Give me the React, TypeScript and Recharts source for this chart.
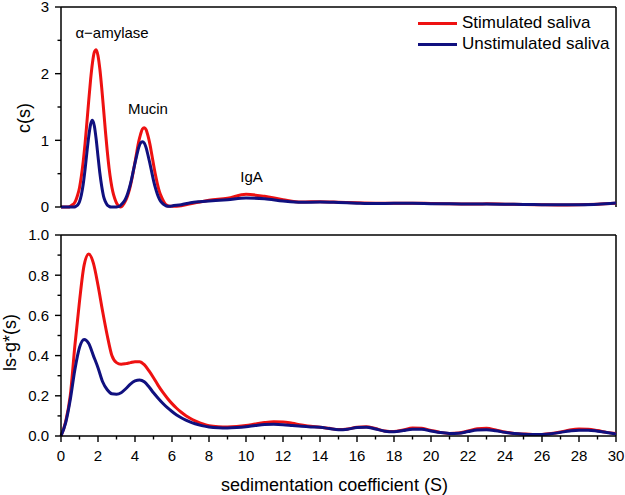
import React from "react";
import {
  Legend,
  Line,
  LineChart,
  ReferenceDot,
  ReferenceLine,
  XAxis,
  YAxis,
} from "recharts";

// c(s) panel: sedimentation coefficient grid and the two distributions
const sTop = [
  0, 0.1, 0.2, 0.3, 0.4, 0.5, 0.6, 0.7, 0.8, 0.9, 1.0, 1.1, 1.2, 1.3, 1.4, 1.5,
  1.6, 1.7, 1.8, 1.9, 2.0, 2.1, 2.2, 2.3, 2.4, 2.5, 2.6, 2.7, 2.8, 2.9, 3.0,
  3.1, 3.2, 3.3, 3.4, 3.5, 3.6, 3.7, 3.8, 3.9, 4.0, 4.1, 4.2, 4.3, 4.4, 4.5,
  4.6, 4.7, 4.8, 4.9, 5.0, 5.1, 5.2, 5.3, 5.4, 5.5, 5.6, 5.7, 5.8, 5.9, 6.0,
  6.5, 7, 7.5, 8, 9, 10, 11, 12, 13, 14, 15, 16, 17, 18, 19, 20, 21, 22, 23,
  24, 25, 26, 27, 28, 29, 30,
];
const stimC = [
  0, 0, 0, 0, 0, 0.01, 0.03, 0.05, 0.1, 0.18, 0.29, 0.46, 0.68, 0.95, 1.27,
  1.6, 1.91, 2.16, 2.32, 2.36, 2.27, 2.07, 1.79, 1.47, 1.14, 0.84, 0.58, 0.38,
  0.23, 0.13, 0.06, 0.02, 0.0, 0.01, 0.05, 0.1, 0.17, 0.26, 0.38, 0.52, 0.67,
  0.83, 0.98, 1.09, 1.17, 1.19, 1.16, 1.07, 0.95, 0.8, 0.64, 0.49, 0.36, 0.25,
  0.17, 0.11, 0.06, 0.03, 0.015, 0.01, 0.01,
  0.02, 0.05, 0.075, 0.1, 0.13, 0.19, 0.16, 0.11, 0.075, 0.08, 0.072, 0.062,
  0.057, 0.057, 0.058, 0.052, 0.047, 0.045, 0.047, 0.043, 0.038, 0.033, 0.03,
  0.032, 0.04, 0.055,
];
const unstimC = [
  0, 0, 0, 0, 0, 0, 0, 0, 0.01, 0.03, 0.08, 0.18, 0.34, 0.56, 0.82, 1.06, 1.24,
  1.3, 1.22, 1.02, 0.76, 0.51, 0.31, 0.16, 0.08, 0.03, 0.01, 0, 0, 0, 0, 0.005,
  0.02, 0.05, 0.08, 0.13, 0.2, 0.29, 0.4, 0.53, 0.66, 0.78, 0.89, 0.96, 0.98,
  0.96, 0.89, 0.78, 0.66, 0.53, 0.4, 0.29, 0.2, 0.13, 0.08, 0.05, 0.03, 0.015,
  0.01, 0.01, 0.015,
  0.035, 0.065, 0.08, 0.09, 0.11, 0.135, 0.125, 0.09, 0.07, 0.075, 0.068,
  0.058, 0.052, 0.055, 0.055, 0.05, 0.047, 0.045, 0.045, 0.042, 0.038, 0.035,
  0.033, 0.035, 0.042, 0.06,
];

// ls-g*(s) panel
const sBottom = [
  0, 0.25, 0.5, 0.75, 1.0, 1.25, 1.5, 1.75, 2.0, 2.25, 2.5, 2.75, 3.0, 3.25,
  3.5, 3.75, 4.0, 4.25, 4.5, 4.75, 5.0, 5.25, 5.5, 5.75, 6.0, 6.25, 6.5, 6.75,
  7.0, 7.25, 7.5, 7.75, 8.0, 8.5, 9, 9.5, 10, 10.5, 11, 11.5, 12, 12.5, 13,
  13.5, 14, 14.5, 15, 15.5, 16, 16.5, 17, 17.5, 18, 18.5, 19, 19.5, 20, 20.5,
  21, 21.5, 22, 22.5, 23, 23.5, 24, 24.5, 25, 25.5, 26, 26.5, 27, 27.5, 28,
  28.5, 29, 29.5, 30,
];
const stimLsg = [
  0, 0.07, 0.2, 0.45, 0.67, 0.85, 0.905, 0.86, 0.75, 0.62, 0.5, 0.4, 0.365,
  0.357, 0.36, 0.365, 0.37, 0.37, 0.355, 0.325, 0.29, 0.252, 0.218, 0.188,
  0.161, 0.138, 0.118, 0.101, 0.087, 0.075, 0.065, 0.057, 0.051, 0.046, 0.045,
  0.047, 0.052, 0.06, 0.067, 0.071, 0.07, 0.063, 0.055, 0.048, 0.044, 0.038,
  0.032, 0.035, 0.044, 0.046, 0.037, 0.025, 0.022, 0.03, 0.04, 0.038, 0.028,
  0.018, 0.013, 0.015, 0.025, 0.036, 0.038, 0.03, 0.02, 0.013, 0.01, 0.008,
  0.008, 0.012, 0.02, 0.03, 0.035, 0.034, 0.027, 0.018, 0.012,
];
const unstimLsg = [
  0, 0.065, 0.18, 0.33, 0.44, 0.48, 0.46, 0.4, 0.34, 0.27, 0.23, 0.21, 0.208,
  0.215, 0.235, 0.258, 0.274, 0.279, 0.27, 0.245, 0.215, 0.188, 0.163, 0.141,
  0.122, 0.105, 0.091, 0.079, 0.069, 0.061, 0.054, 0.049, 0.045, 0.041, 0.04,
  0.042, 0.046, 0.052, 0.057, 0.058, 0.056, 0.052, 0.048, 0.045, 0.043, 0.037,
  0.031, 0.034, 0.042, 0.044, 0.035, 0.024, 0.021, 0.027, 0.034, 0.033, 0.025,
  0.017, 0.013, 0.014, 0.022, 0.03, 0.031, 0.026, 0.018, 0.012, 0.009, 0.008,
  0.008, 0.011, 0.018, 0.025, 0.029, 0.029, 0.024, 0.017, 0.01,
];

const xTicks = [
  0, 1, 2, 3, 4, 5, 6, 7, 8, 9, 10, 11, 12, 13, 14, 15, 16, 17, 18, 19, 20, 21,
  22, 23, 24, 25, 26, 27, 28, 29, 30,
];
const cTicks = [0, 0.5, 1, 1.5, 2, 2.5, 3];
const lsgTicks = [0, 0.1, 0.2, 0.3, 0.4, 0.5, 0.6, 0.7, 0.8, 0.9, 1.0];

const RED = "#ee1111";
const NAVY = "#10107f";
const FONT = "'Liberation Sans', Arial, sans-serif";

const topData = sTop.map((s, i) => ({ s, stim: stimC[i], unstim: unstimC[i] }));
const bottomData = sBottom.map((s, i) => ({
  s,
  stim: stimLsg[i],
  unstim: unstimLsg[i],
}));

const XTick = (props: any) => {
  const { x, y, payload, showLabel } = props;
  const major = payload.value % 2 === 0;
  return (
    <g>
      <line x1={x} x2={x} y1={y} y2={y + (major ? 6 : 3.5)} stroke="#000" strokeWidth={1.4} />
      {showLabel && major && (
        <text x={x} y={y + 25} textAnchor="middle" fontSize={15} fontFamily={FONT} fill="#000">
          {payload.value}
        </text>
      )}
    </g>
  );
};

const YTick = (props: any) => {
  const { x, y, payload, isMajor, format } = props;
  const major = isMajor(payload.value);
  return (
    <g>
      <line x1={x - (major ? 6 : 3.5)} x2={x} y1={y} y2={y} stroke="#000" strokeWidth={1.4} />
      {major && (
        <text x={x - 12} y={y + 5.3} textAnchor="end" fontSize={15} fontFamily={FONT} fill="#000">
          {format(payload.value)}
        </text>
      )}
    </g>
  );
};

const yTitle = (text: string, cx: number, shift: number) => (props: any) => {
  const vb = props.viewBox;
  const cy = vb.y + vb.height / 2 + shift;
  return (
    <text
      x={cx}
      y={cy}
      transform={`rotate(-90 ${cx} ${cy})`}
      textAnchor="middle"
      dominantBaseline="central"
      fontSize={18}
      fontFamily={FONT}
      fill="#000"
    >
      {text}
    </text>
  );
};

const xTitle = (props: any) => {
  const vb = props.viewBox;
  return (
    <text
      x={vb.x + vb.width / 2 - 4}
      y={vb.y + 55}
      textAnchor="middle"
      fontSize={18}
      fontFamily={FONT}
      fill="#000"
    >
      sedimentation coefficient (S)
    </text>
  );
};

const renderLegend = (props: any) => (
  <div style={{ fontFamily: FONT, fontSize: 17, color: "#000" }}>
    {(props.payload || []).map((e: any) => (
      <div key={e.value} style={{ display: "flex", alignItems: "center", height: 21 }}>
        <span style={{ width: 39, height: 3, background: e.color, marginRight: 5 }} />
        <span>{e.value}</span>
      </div>
    ))}
  </div>
);

const axisLine = { stroke: "#000", strokeWidth: 1.5 };
const annot = (value: string) => ({ value, position: "center" as const, fontSize: 15, fill: "#000", fontFamily: FONT });

export default function App() {
  return (
    <div style={{ position: "absolute", left: 0, top: 0, width: 625, height: 495, background: "#fff", fontFamily: FONT }}>
      <div style={{ position: "absolute", left: 0, top: 0 }}>
        <LineChart width={625} height={220} data={topData} margin={{ top: 7, right: 9, bottom: 13, left: 0 }}>
          <XAxis
            dataKey="s"
            type="number"
            domain={[0, 30]}
            ticks={xTicks}
            interval={0}
            height={0}
            tickSize={0}
            tickMargin={0}
            tickLine={false}
            axisLine={axisLine}
            tick={<XTick showLabel={false} />}
          />
          <YAxis
            type="number"
            domain={[0, 3]}
            ticks={cTicks}
            interval={0}
            width={61}
            tickSize={0}
            tickMargin={0}
            tickLine={false}
            axisLine={axisLine}
            tick={<YTick isMajor={(v: number) => Number.isInteger(v)} format={(v: number) => String(v)} />}
            label={yTitle("c(s)", 24, 11)}
          />
          <ReferenceLine y={3} stroke="#000" strokeWidth={1.5} />
          <ReferenceLine x={30} stroke="#000" strokeWidth={1.5} />
          <Line type="monotone" dataKey="stim" name="Stimulated saliva" stroke={RED} strokeWidth={3} dot={false} activeDot={false} isAnimationActive={false} />
          <Line type="monotone" dataKey="unstim" name="Unstimulated saliva" stroke={NAVY} strokeWidth={3} dot={false} activeDot={false} isAnimationActive={false} />
          <ReferenceDot x={2.76} y={2.62} r={0} stroke="none" fill="none" label={annot("\u03b1\u2212amylase")} />
          <ReferenceDot x={4.7} y={1.47} r={0} stroke="none" fill="none" label={annot("Mucin")} />
          <ReferenceDot x={10.3} y={0.45} r={0} stroke="none" fill="none" label={annot("IgA")} />
          <Legend
            layout="vertical"
            align="center"
            verticalAlign="middle"
            wrapperStyle={{ top: 12.5, left: 418, width: 200 }}
            content={renderLegend}
          />
        </LineChart>
      </div>
      <div style={{ position: "absolute", left: 0, top: 220 }}>
        <LineChart width={625} height={275} data={bottomData} margin={{ top: 15, right: 9, bottom: 0, left: 0 }}>
          <XAxis
            dataKey="s"
            type="number"
            domain={[0, 30]}
            ticks={xTicks}
            interval={0}
            height={59}
            tickSize={0}
            tickMargin={0}
            tickLine={false}
            axisLine={axisLine}
            tick={<XTick showLabel={true} />}
            label={xTitle}
          />
          <YAxis
            type="number"
            domain={[0, 1]}
            ticks={lsgTicks}
            interval={0}
            width={61}
            tickSize={0}
            tickMargin={0}
            tickLine={false}
            axisLine={axisLine}
            tick={<YTick isMajor={(v: number) => Math.round(v * 10) % 2 === 0} format={(v: number) => v.toFixed(1)} />}
            label={yTitle("ls-g*(s)", 10, 7)}
          />
          <ReferenceLine y={1} stroke="#000" strokeWidth={1.5} />
          <ReferenceLine x={30} stroke="#000" strokeWidth={1.5} />
          <Line type="monotone" dataKey="stim" name="Stimulated saliva" stroke={RED} strokeWidth={3} dot={false} activeDot={false} isAnimationActive={false} />
          <Line type="monotone" dataKey="unstim" name="Unstimulated saliva" stroke={NAVY} strokeWidth={3} dot={false} activeDot={false} isAnimationActive={false} />
        </LineChart>
      </div>
    </div>
  );
}
